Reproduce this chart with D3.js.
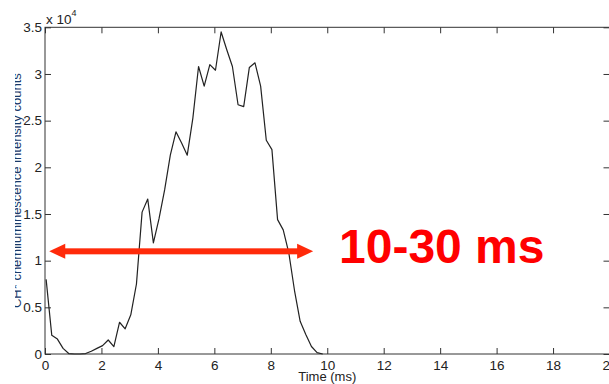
<!DOCTYPE html>
<html><head><meta charset="utf-8">
<script src="https://cdn.jsdelivr.net/npm/d3@7"></script>
<style>body{margin:0;background:#fff;}svg{display:block;}text{font-family:"Liberation Sans",Arial,sans-serif;}</style>
</head><body>
<svg id="c" width="609" height="384"></svg>
<script>
const timeMs = [0.04,0.24,0.44,0.64,0.84,1.04,1.24,1.44,1.64,1.84,2.04,2.24,2.44,2.64,2.84,3.04,3.24,3.44,3.64,3.84,4.04,4.24,4.44,4.64,4.84,5.04,5.24,5.44,5.64,5.84,6.04,6.24,6.44,6.64,6.84,7.04,7.24,7.44,7.64,7.84,8.04,8.24,8.44,8.64,8.84,9.04,9.24,9.44,9.64,9.84];
const intensity = [0.80,0.20,0.16,0.06,0.005,0.0,0.0,0.005,0.03,0.06,0.09,0.15,0.08,0.34,0.27,0.42,0.75,1.52,1.66,1.19,1.45,1.76,2.13,2.38,2.26,2.13,2.53,3.08,2.87,3.10,3.04,3.45,3.26,3.08,2.67,2.65,3.07,3.12,2.87,2.29,2.19,1.44,1.33,1.08,0.68,0.35,0.21,0.08,0.015,0.0];
const xTicks = [0,2,4,6,8,10,12,14,16,18,20];
const yTicks = [0,0.5,1,1.5,2,2.5,3,3.5];
const yTickLabels = ["0","0.5","1","1.5","2","2.5","3","3.5"];
const arrowRange = [0.15, 9.5];
const arrowLevel = 1.1;
const annotation = "10-30 ms";
const xLabel = "Time (ms)";
const yLabel = "CH* chemiluminescence intensity counts";

const svg = d3.select("#c");
const x = d3.scaleLinear().domain([0,20]).range([45,609.5]);
const y = d3.scaleLinear().domain([0,3.5]).range([354,27.3]);
const axisColor = "#333";

// frame
svg.append("rect").attr("x",x(0)).attr("y",y(3.5)).attr("width",x(20)-x(0)).attr("height",y(0)-y(3.5))
  .attr("fill","none").attr("stroke",axisColor).attr("stroke-width",1);

// bottom axis
const gx = svg.append("g").attr("transform",`translate(0,${y(0)})`)
  .call(d3.axisBottom(x).tickValues(xTicks).tickSizeInner(-6).tickSizeOuter(0).tickPadding(6).tickFormat(d3.format("d")));
gx.select(".domain").remove();
gx.selectAll("line").attr("stroke",axisColor);
gx.selectAll("text").attr("font-size",13.5).attr("fill","#222").attr("font-family","Liberation Sans, Arial, sans-serif");
// top axis ticks
const gxt = svg.append("g").attr("transform",`translate(0,${y(3.5)})`)
  .call(d3.axisTop(x).tickValues(xTicks).tickSizeInner(-6).tickSizeOuter(0).tickFormat(""));
gxt.select(".domain").remove();
gxt.selectAll("line").attr("stroke",axisColor);

// left axis
const gy = svg.append("g").attr("transform",`translate(${x(0)},0)`)
  .call(d3.axisLeft(y).tickValues(yTicks).tickSizeInner(-6).tickSizeOuter(0).tickPadding(3).tickFormat((d,i)=>yTickLabels[i]));
gy.select(".domain").remove();
gy.selectAll("line").attr("stroke",axisColor);
gy.selectAll("text").attr("font-size",13.5).attr("fill","#222").attr("font-family","Liberation Sans, Arial, sans-serif");
// right axis ticks
const gyr = svg.append("g").attr("transform",`translate(${x(20)},0)`)
  .call(d3.axisRight(y).tickValues(yTicks).tickSizeInner(-6).tickSizeOuter(0).tickFormat(""));
gyr.select(".domain").remove();
gyr.selectAll("line").attr("stroke",axisColor);

// exponent
const ex = svg.append("text").attr("x",x(0)+1).attr("y",y(3.5)-3).attr("font-size",13.5).attr("fill","#222");
ex.append("tspan").text("x 10");
ex.append("tspan").attr("dy",-8).attr("font-size",9).text("4");

// x label
svg.append("text").attr("x",x(10)).attr("y",381).attr("text-anchor","middle").attr("font-size",13).attr("fill","#222").text(xLabel);

// y label (clipped on left)
svg.append("clipPath").attr("id","yl").append("rect").attr("x",15).attr("y",0).attr("width",30).attr("height",384);
svg.append("g").attr("clip-path","url(#yl)")
  .append("text").attr("transform",`translate(20.5,${(y(0)+y(3.5))/2}) rotate(-90)`)
  .attr("text-anchor","middle").attr("font-size",13).attr("fill","#1a3a6a").text(yLabel);

// data line
const line = d3.line().x((d,i)=>x(timeMs[i])).y(d=>y(d));
svg.append("path").datum(intensity).attr("d",line).attr("fill","none").attr("stroke","#222").attr("stroke-width",1.2).attr("stroke-linejoin","round");

// red double arrow
const ay = y(arrowLevel), ax0 = x(arrowRange[0]), ax1 = x(arrowRange[1]);
const red = "#ff2a0a";
const headL = 16, headH = 7.5, shaft = 3;
svg.append("rect").attr("x",ax0+headL-1).attr("y",ay-shaft).attr("width",(ax1-headL+1)-(ax0+headL-1)).attr("height",shaft*2).attr("fill",red);
svg.append("path").attr("d",`M${ax0},${ay} L${ax0+headL},${ay-headH} L${ax0+headL},${ay+headH} Z`).attr("fill",red);
svg.append("path").attr("d",`M${ax1},${ay} L${ax1-headL},${ay-headH} L${ax1-headL},${ay+headH} Z`).attr("fill",red);

// annotation
svg.append("text").attr("x",339).attr("y",263).attr("font-size",48).attr("font-weight","bold").attr("fill","#ff0000").text(annotation);
</script>
</body></html>
